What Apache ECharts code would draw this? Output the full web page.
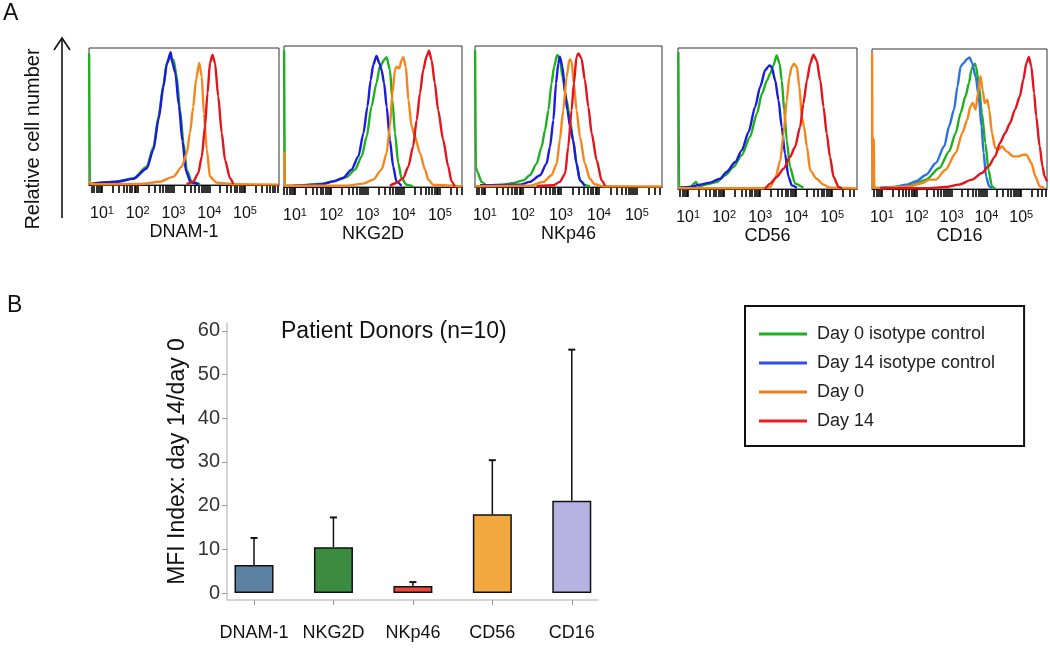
<!DOCTYPE html>
<html>
<head>
<meta charset="utf-8">
<script src="https://cdn.jsdelivr.net/npm/echarts@6/dist/echarts.min.js"></script>
<style>html,body{margin:0;padding:0;background:#fff}#c{width:1050px;height:657px}</style>
</head>
<body>
<div id="c"></div>
<script>
// ---------- Panel A data: [log10(fluorescence), relative cell number %] ----------
const markers = ['DNAM-1', 'NKG2D', 'NKp46', 'CD56', 'CD16'];
const seriesNames = ['Day 0 isotype control', 'Day 14 isotype control', 'Day 0', 'Day 14'];
const decadeExponents = [1, 2, 3, 4, 5];
const axisLogMin = [0.636, 0.697, 0.737, 0.72, 0.716];
const axisLogMax = [5.95, 5.61, 5.66, 5.69, 5.74];

const dnamIsoD0 = [[0.64,96],[0.66,1],[0.76,1.2],[1.41,2.4],[1.88,4.9],[2.25,13.4],[2.44,28],[2.58,50],[2.72,74],[2.81,89],[2.90,93],[3.0,91.5],[3.09,79],[3.18,55],[3.28,30.5],[3.37,11],[3.51,2.4],[3.74,0.5]];
const dnamIsoD14 = [[0.76,1.2],[1.41,2.4],[1.88,4.5],[2.25,12],[2.44,26],[2.58,48],[2.72,72],[2.81,88],[2.92,97],[2.96,90],[3.05,82],[3.15,58],[3.25,32],[3.35,10],[3.48,2],[3.70,0.5]];
const dnamD0 = [[0.64,3],[0.70,0.5],[2.06,0.7],[2.62,2.4],[3.0,6.1],[3.23,13.4],[3.37,23],[3.46,38],[3.55,57],[3.63,77],[3.72,89],[3.79,79],[3.85,52],[3.93,26],[4.02,6],[4.21,1.7],[4.67,0.5],[5.94,0.3]];
const dnamD14 = [[3.37,0.5],[3.55,2.4],[3.69,8.5],[3.79,20.7],[3.88,42.7],[3.95,67],[4.02,89],[4.09,95],[4.16,89],[4.25,64.6],[4.35,37.8],[4.44,18.3],[4.58,4.9],[4.67,0.7]];

const nkg2dIsoD0 = [[0.70,97],[0.72,1],[0.95,0.9],[1.78,2.4],[2.06,4],[2.43,7.1],[2.66,12.3],[2.84,21.7],[2.98,35.8],[3.11,57],[3.25,73.6],[3.34,85.4],[3.48,90.6],[3.53,92],[3.62,83],[3.69,61.8],[3.76,38.2],[3.85,17],[3.94,6.4],[4.08,1.6],[4.26,0.5]];
const nkg2dIsoD14 = [[0.95,0.9],[1.51,1.4],[1.78,2.1],[2.06,4],[2.33,6.4],[2.56,12.3],[2.75,21.7],[2.89,38.2],[3.0,57],[3.09,76],[3.16,86.6],[3.25,93],[3.33,87.7],[3.39,83],[3.46,73.6],[3.53,57],[3.62,33.5],[3.71,14.6],[3.80,4],[3.94,0.9]];
const nkg2dD0 = [[0.70,25],[0.72,0.9],[2.43,0.9],[2.89,2.4],[3.16,5.2],[3.39,12.3],[3.53,24],[3.62,43],[3.69,66.5],[3.76,83],[3.80,85.4],[3.88,84.2],[3.94,90],[3.99,92],[4.06,85.4],[4.13,61.8],[4.22,43],[4.31,35.8],[4.45,24],[4.59,12.3],[4.68,5.2],[4.82,1.4],[5.60,0.4]];
const nkg2dD14 = [[3.62,0.9],[3.80,2.8],[3.99,6.4],[4.13,14.6],[4.26,28.8],[4.36,47.6],[4.45,66.5],[4.54,83],[4.63,92.5],[4.70,96.7],[4.77,90],[4.86,73.6],[4.95,54.7],[5.09,33.5],[5.23,14.6],[5.32,4],[5.41,0.5]];

const nkp46IsoD0 = [[0.74,97],[0.76,14],[0.80,10.7],[0.91,3.6],[1.04,1.2],[1.48,1.7],[1.75,2.8],[2.01,4.7],[2.18,8.3],[2.36,16.6],[2.49,28.4],[2.58,40.3],[2.67,54.5],[2.75,73.5],[2.82,85.3],[2.90,93.6],[2.97,91.2],[3.04,78.2],[3.15,61.6],[3.24,47.4],[3.32,33.2],[3.41,16.6],[3.50,4.7],[3.63,1.2],[3.76,0.5]];
const nkp46IsoD14 = [[0.87,1.2],[1.92,1.7],[2.18,3.6],[2.45,8.3],[2.62,16.6],[2.71,28.4],[2.80,47.4],[2.87,73.5],[2.93,87.7],[2.97,92.4],[3.04,85.3],[3.11,66.4],[3.17,54.5],[3.24,42.7],[3.32,33.2],[3.41,16.6],[3.50,4.7],[3.63,0.7]];
const nkp46D0 = [[0.74,0.5],[2.18,0.9],[2.54,3.6],[2.75,8.3],[2.89,16.6],[2.97,33.2],[3.06,54.5],[3.15,78.2],[3.22,90],[3.24,90.5],[3.28,88.9],[3.34,73.5],[3.41,54.5],[3.50,35.5],[3.63,16.6],[3.76,5.9],[3.89,1.9],[4.11,0.5],[5.65,0.4]];
const nkp46D14 = [[2.36,0.5],[2.80,1.2],[2.97,3.6],[3.11,9.5],[3.19,28.4],[3.28,54.5],[3.34,73.5],[3.41,92.4],[3.46,94.8],[3.54,91.2],[3.63,75.8],[3.72,56.9],[3.81,37.9],[3.94,19],[4.07,4.7],[4.16,0.9]];

const cd56IsoD0 = [[0.73,97],[0.75,0.9],[1.06,1.4],[1.19,4.3],[1.22,5],[1.29,1.9],[1.52,3.3],[1.80,5],[2.03,9.7],[2.26,15.6],[2.49,23.9],[2.72,36.9],[2.91,53.4],[3.05,67.6],[3.19,77],[3.28,81.8],[3.37,87.7],[3.46,94.8],[3.54,88.9],[3.60,77],[3.67,55.8],[3.74,34.5],[3.83,15.6],[3.97,3.8],[4.20,0.9]];
const cd56IsoD14 = [[0.78,0.9],[1.06,1.4],[1.33,3.1],[1.61,4.5],[1.89,7.3],[2.07,12.1],[2.31,19.1],[2.49,27.4],[2.68,40.4],[2.86,58.2],[3.0,72.3],[3.14,84.2],[3.23,87],[3.26,87.7],[3.32,86.5],[3.42,77],[3.51,62.9],[3.60,44],[3.69,25],[3.79,8.5],[3.88,2.6],[4.02,0.9]];
const cd56D0 = [[0.73,0.5],[3.09,0.5],[3.28,1.4],[3.42,7.3],[3.56,20.3],[3.65,39.2],[3.74,62.9],[3.81,79.4],[3.88,86.5],[3.94,88.9],[4.02,86.5],[4.09,72.3],[4.16,51],[4.22,44],[4.30,29.8],[4.39,13.2],[4.57,7.3],[4.76,3.1],[4.94,0.9],[5.68,0.4]];
const cd56D14 = [[3.14,0.2],[3.28,3.8],[3.46,8.5],[3.65,14.4],[3.83,22.7],[3.97,29.8],[4.11,44],[4.20,60.5],[4.30,77],[4.39,88.9],[4.48,95.3],[4.57,91.3],[4.67,77],[4.76,58.2],[4.85,39.2],[4.94,22.7],[5.04,8.5],[5.18,1.4],[5.27,0.2]];

const cd16IsoD0 = [[0.94,0.7],[1.51,1.2],[1.89,3.1],[2.27,6.7],[2.65,15],[2.93,26.9],[3.12,40],[3.26,54.3],[3.40,66.2],[3.50,75.7],[3.57,85.2],[3.64,88.8],[3.67,89.5],[3.70,87.6],[3.78,75.7],[3.87,54.3],[3.97,32.9],[4.06,13.8],[4.16,1.9],[4.25,0.2]];
const cd16IsoD14 = [[0.94,0.7],[1.32,1.4],[1.70,3.1],[1.98,5.5],[2.27,10.2],[2.55,18.6],[2.79,30.5],[2.93,44.8],[3.07,56.7],[3.17,73.3],[3.26,87.6],[3.35,90],[3.45,92.9],[3.52,94],[3.59,90],[3.69,80.5],[3.78,66.2],[3.86,44.8],[3.92,25.7],[3.99,9],[4.08,1.9],[4.16,0.5]];
const cd16D0 = [[0.72,97],[0.73,1],[0.76,1],[0.77,36],[0.78,1],[0.94,0.7],[1.79,1.9],[2.17,4.3],[2.36,6.7],[2.55,6.7],[2.83,13.8],[3.12,25.7],[3.31,40],[3.45,49.5],[3.54,59],[3.61,61.4],[3.69,56.7],[3.76,68.6],[3.83,80.5],[3.89,71],[3.95,61.4],[4.03,63.8],[4.08,56.7],[4.16,40],[4.25,29.3],[4.35,28.1],[4.44,30.5],[4.58,26.9],[4.77,23.3],[4.91,23.3],[5.06,24.5],[5.15,24.5],[5.29,18.6],[5.41,9],[5.53,1.9],[5.67,0.7]];
const cd16D14 = [[0.94,0.5],[2.27,0.5],[2.83,1.4],[3.21,3.1],[3.59,6.7],[3.87,11.4],[4.06,16.2],[4.25,23.3],[4.39,32.9],[4.54,40],[4.68,47.1],[4.82,56.7],[4.96,66.2],[5.06,78.1],[5.15,90],[5.22,94.3],[5.29,87.6],[5.37,68.6],[5.43,51.9],[5.53,30.5],[5.61,16.2],[5.67,9],[5.74,5.5]];

// ---------- Panel B data ----------
const barCategories = ['DNAM-1', 'NKG2D', 'NKp46', 'CD56', 'CD16'];
const mfiMean = [6.4, 10.5, 1.6, 18.0, 21.1];
const mfiUpper = [12.6, 17.3, 2.5, 30.4, 55.7];
const yTickValues = [0, 10, 20, 30, 40, 50, 60];

// ---------- styling / layout ----------
const FONT = '"Liberation Sans", Arial, sans-serif';
const lineColors = ['#1fb01f', '#1a1ae0', '#f5861c', '#e3141b'];
const barColors = ['#5b80a2', '#3b8c3f', '#f0473b', '#f2a93f', '#b6b3e2'];
const boxes = [
  {left: 89, top: 48, width: 190, height: 137},
  {left: 284, top: 46, width: 178, height: 141},
  {left: 475, top: 46, width: 187, height: 141},
  {left: 678, top: 48, width: 179, height: 141},
  {left: 872, top: 49, width: 177, height: 140}
];
const panelData = [
  [dnamIsoD0, dnamIsoD14, dnamD0, dnamD14],
  [nkg2dIsoD0, nkg2dIsoD14, nkg2dD0, nkg2dD14],
  [nkp46IsoD0, nkp46IsoD14, nkp46D0, nkp46D14],
  [cd56IsoD0, cd56IsoD14, cd56D0, cd56D14],
  [cd16IsoD0, cd16IsoD14, cd16D0, cd16D14]
];

const grids = [], xAxes = [], yAxes = [], series = [];
const drawOrder = [1, 0, 3, 2];
markers.forEach((m, i) => {
  grids.push(Object.assign({show: true, borderColor: '#333', borderWidth: 1, backgroundColor: 'transparent'}, boxes[i]));
  const minV = Math.pow(10, axisLogMin[i]), maxV = Math.pow(10, axisLogMax[i]);
  const tickVals = [];
  for (let n = 0; n <= 6; n++) for (let k = 1; k <= 9; k++) {
    const v = k * Math.pow(10, n);
    if (v > minV && v < maxV) tickVals.push(v);
  }
  xAxes.push({
    type: 'log', logBase: 10, gridIndex: i, min: minV, max: maxV,
    name: m, nameLocation: 'middle', nameGap: 38,
    nameTextStyle: {fontFamily: FONT, fontSize: 18, color: '#111'},
    axisLine: {show: true, lineStyle: {color: '#111', width: 1.2}},
    axisTick: {show: true, customValues: tickVals, length: 8, lineStyle: {color: '#000', width: 1.6}},
    splitLine: {show: false},
    axisLabel: {
      margin: 20, color: '#111', fontFamily: FONT,
      formatter: v => {
        const e = Math.log10(v), r = Math.round(e);
        if (Math.abs(e - r) > 1e-6 || decadeExponents.indexOf(r) < 0) return '';
        return '{b|10}{s|' + r + '}';
      },
      rich: {
        b: {fontSize: 16, lineHeight: 18, fontFamily: FONT, color: '#111'},
        s: {fontSize: 11, lineHeight: 12, verticalAlign: 'top', fontFamily: FONT, color: '#111'}
      }
    }
  });
  yAxes.push({type: 'value', gridIndex: i, min: 0, max: 100, show: false});
  drawOrder.forEach(s => {
    series.push({
      type: 'line', name: seriesNames[s], xAxisIndex: i, yAxisIndex: i,
      data: panelData[i][s].map(p => [Math.pow(10, p[0]), p[1]]),
      showSymbol: false, symbol: 'none', smooth: 0.25, smoothMonotone: 'x',
      lineStyle: {width: 2.4, color: (i === 4 && s === 1) ? '#2a72e2' : lineColors[s]},
      itemStyle: {color: lineColors[s]},
      z: 3 + s, silent: true, animation: false
    });
  });
});

// Panel B grid
grids.push({left: 227, top: 323, width: 371, height: 277, show: false});
xAxes.push({
  type: 'value', gridIndex: 5, min: -0.34, max: 4.33,
  axisLine: {show: true, onZero: false, lineStyle: {color: '#c8c8c8', width: 1.5}},
  axisTick: {show: true, customValues: [0, 1, 2, 3, 4], length: 5, lineStyle: {color: '#999'}},
  axisLabel: {customValues: [0, 1, 2, 3, 4], formatter: v => barCategories[Math.round(v)], margin: 24, fontSize: 18, color: '#111', fontFamily: FONT},
  splitLine: {show: false}
});
yAxes.push({
  type: 'value', gridIndex: 5, min: -1.6, max: 61.8,
  name: 'MFI Index: day 14/day 0', nameLocation: 'middle', nameGap: 38,
  nameTextStyle: {fontFamily: FONT, fontSize: 23, color: '#111'},
  axisLine: {show: true, onZero: false, lineStyle: {color: '#c8c8c8', width: 1.5}},
  axisTick: {show: true, customValues: yTickValues, length: 5, lineStyle: {color: '#999'}},
  axisLabel: {customValues: yTickValues, margin: 7, fontSize: 20, color: '#333', fontFamily: FONT},
  splitLine: {show: false}
});
series.push({
  type: 'bar', xAxisIndex: 5, yAxisIndex: 5, barWidth: 39,
  data: barCategories.map((c, i) => ({value: [i, mfiMean[i]], itemStyle: {color: barColors[i]}})),
  itemStyle: {borderColor: '#111', borderWidth: 1.5}, z: 2, animation: false
});
series.push({
  type: 'custom', xAxisIndex: 5, yAxisIndex: 5, z: 1,
  data: barCategories.map((c, i) => [i, mfiMean[i], mfiUpper[i]]),
  encode: {x: 0, y: [1, 2]},
  renderItem: (params, api) => {
    const p0 = api.coord([api.value(0), api.value(1)]);
    const p1 = api.coord([api.value(0), api.value(2)]);
    return {type: 'group', children: [
      {type: 'line', shape: {x1: p0[0], y1: p0[1], x2: p1[0], y2: p1[1]}, style: {stroke: '#111', lineWidth: 1.5}},
      {type: 'line', shape: {x1: p1[0] - 3.5, y1: p1[1], x2: p1[0] + 3.5, y2: p1[1]}, style: {stroke: '#111', lineWidth: 2}}
    ]};
  },
  animation: false
});

const chart = echarts.init(document.getElementById('c'), null, {renderer: 'canvas'});
chart.setOption({
  animation: false,
  backgroundColor: '#fff',
  textStyle: {fontFamily: FONT},
  title: [
    {text: 'A', left: 3, top: 2, padding: 0, textStyle: {fontFamily: FONT, fontSize: 23, fontWeight: 'normal', color: '#111'}},
    {text: 'B', left: 7, top: 294, padding: 0, textStyle: {fontFamily: FONT, fontSize: 23, fontWeight: 'normal', color: '#111'}},
    {text: 'Patient Donors (n=10)', left: 281, top: 320, padding: 0, textStyle: {fontFamily: FONT, fontSize: 23, fontWeight: 'normal', color: '#111'}}
  ],
  legend: {
    orient: 'vertical', left: 745, top: 306, selectedMode: false,
    borderColor: '#111', borderWidth: 2, padding: [18, 29, 15, 14],
    itemWidth: 48, itemHeight: 3, itemGap: 9, icon: 'rect',
    textStyle: {fontFamily: FONT, fontSize: 18, color: '#222', lineHeight: 20, padding: [0, 0, 0, 5]},
    data: seriesNames.map((n, s) => ({name: n, itemStyle: {color: ['#1fb01f', '#2f4ff0', '#f07a22', '#ee1c1c'][s]}}))
  },
  graphic: [
    {type: 'line', shape: {x1: 62, y1: 218, x2: 62, y2: 38}, style: {stroke: '#111', lineWidth: 1.6}},
    {type: 'polyline', shape: {points: [[54, 50], [62, 38], [70, 50]]}, style: {stroke: '#111', lineWidth: 1.6, fill: null}},
    {type: 'text', x: 33, y: 139, rotation: Math.PI / 2, style: {text: 'Relative cell number', fontFamily: FONT, fontSize: 20, fill: '#111', textAlign: 'center', textVerticalAlign: 'middle'}}
  ],
  grid: grids, xAxis: xAxes, yAxis: yAxes, series: series
});
</script>
</body>
</html>
